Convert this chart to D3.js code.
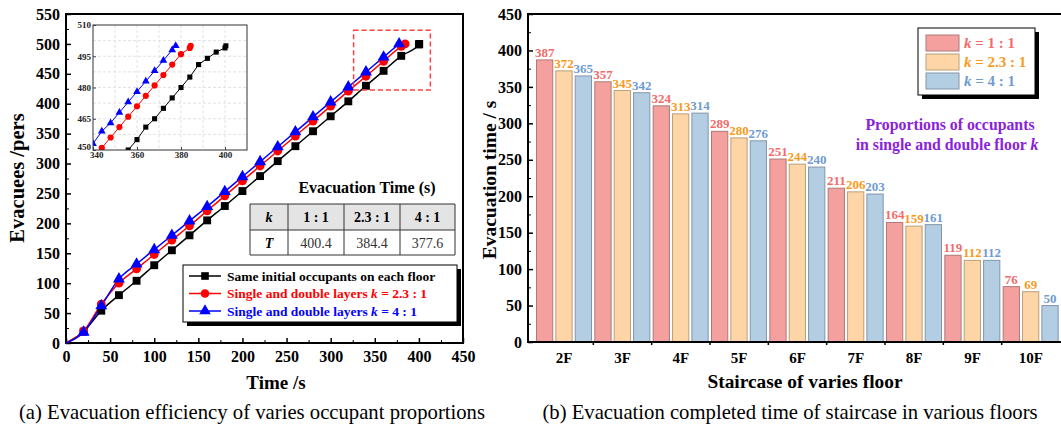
<!DOCTYPE html>
<html>
<head>
<meta charset="utf-8">
<script src="https://cdn.jsdelivr.net/npm/d3@7"></script>
<style>
  body { margin: 0; background: #fff; }
  svg { display: block; font-family: "Liberation Serif", "Times New Roman", serif; }
</style>
</head>
<body>
<div id="chart"></div>
<script>
// ---- data: (a) evacuees vs time ----
var blackT = [0, 20, 40, 60, 80, 100, 120, 140, 160, 180, 200, 220, 240, 260, 280, 300, 320, 340, 360, 380, 400, 400.4];
var blackV = [0, 19, 54, 80, 104, 130, 155, 180, 205, 229, 254, 279, 304, 329, 354, 379, 404, 430, 455, 480, 499, 500];
var redT = [0, 20, 40, 60, 80, 100, 120, 140, 160, 180, 200, 220, 240, 260, 280, 300, 320, 340, 360, 380, 384.4];
var redV = [0, 20, 65, 100, 124, 148, 172, 196, 221, 246, 271, 296, 321, 346, 371, 396, 421, 446, 471, 496, 500];
var blueT = [0, 20, 40, 60, 80, 100, 120, 140, 160, 180, 200, 220, 240, 260, 280, 300, 320, 340, 360, 377.6];
var blueV = [0, 18, 62, 107, 132, 156, 180, 204, 228, 253, 278, 303, 328, 353, 378, 403, 428, 453, 478, 500];

// inset (zoom of the end)
var inBlackT = [356, 360, 364, 368, 372, 376, 380, 384, 388, 392, 396, 400, 400.4];
var inBlackV = [450, 455, 461, 465, 470, 475, 480, 485, 491, 494, 497, 499, 500];
var inRedT = [344, 348, 352, 356, 360, 364, 368, 372, 376, 380, 384, 384.4];
var inRedV = [451, 456, 461, 466, 471, 476, 481, 486, 491, 496, 499, 500];
var inBlueT = [340, 344, 348, 352, 356, 360, 364, 368, 372, 376, 377.6];
var inBlueV = [453, 459, 463, 468, 473, 478, 483, 488, 493, 498, 500];

var tableK = ["1 : 1", "2.3 : 1", "4 : 1"];
var tableT = ["400.4", "384.4", "377.6"];

// ---- data: (b) evacuation time per floor ----
var floors = ["2F", "3F", "4F", "5F", "6F", "7F", "8F", "9F", "10F"];
var k1 = [387, 357, 324, 289, 251, 211, 164, 119, 76];
var k23 = [372, 345, 313, 280, 244, 206, 159, 112, 69];
var k4 = [365, 342, 314, 276, 240, 203, 161, 112, 50];
var kNames = ["1 : 1", "2.3 : 1", "4 : 1"];

var W = 1061, H = 429;
var svg = d3.select("#chart").append("svg").attr("width", W).attr("height", H);

// ================= (a) =================
var x = d3.scaleLinear().domain([0, 450]).range([66, 463]);
var y = d3.scaleLinear().domain([0, 550]).range([343, 14]);

var gA = svg.append("g");

// minor ticks
gA.append("g").attr("transform", "translate(0,343)")
  .call(d3.axisBottom(x).tickValues(d3.range(25, 450, 50)).tickSize(-3).tickFormat(""))
  .call(g => g.select(".domain").remove());
gA.append("g").attr("transform", "translate(66,0)")
  .call(d3.axisLeft(y).tickValues(d3.range(25, 550, 50)).tickSize(-3).tickFormat(""))
  .call(g => g.select(".domain").remove());

var xAx = gA.append("g").attr("transform", "translate(0,343)")
  .call(d3.axisBottom(x).tickValues(d3.range(0, 451, 50)).tickSize(-5).tickPadding(8));
var yAx = gA.append("g").attr("transform", "translate(66,0)")
  .call(d3.axisLeft(y).tickValues(d3.range(0, 551, 50)).tickSize(-5).tickPadding(6));
[xAx, yAx].forEach(function(a) {
  a.selectAll("text").attr("font-size", 16).attr("font-weight", "bold").attr("fill", "#000")
    .attr("font-family", "Liberation Serif, serif");
  a.select(".domain").remove();
  a.selectAll("line").attr("stroke-width", 1.5);
});
gA.selectAll(".tick line").attr("stroke", "#000");

gA.append("rect").attr("x", 66).attr("y", 14).attr("width", 397).attr("height", 329)
  .attr("fill", "none").attr("stroke", "#000").attr("stroke-width", 2);

function series(T, V) { return T.map(function(t, i) { return [t, V[i]]; }); }
var main = [
  { d: series(blackT, blackV), c: "#000", m: "square" },
  { d: series(redT, redV), c: "#f00", m: "circle" },
  { d: series(blueT, blueV), c: "#00f", m: "triangle" }
];

function marker(sel, type, color, size) {
  var sym = type === "square" ? d3.symbolSquare : type === "circle" ? d3.symbolCircle : d3.symbolTriangle;
  sel.append("path").attr("d", d3.symbol().type(sym).size(size)).attr("fill", color);
}

var lineA = d3.line().x(d => x(d[0])).y(d => y(d[1])).curve(d3.curveMonotoneX);
main.forEach(function(s) {
  gA.append("path").attr("d", lineA(s.d)).attr("fill", "none").attr("stroke", s.c).attr("stroke-width", 1.5);
});
main.forEach(function(s) {
  s.d.slice(1).forEach(function(p) {
    var g = gA.append("g").attr("transform", "translate(" + x(p[0]) + "," + y(p[1]) + ")");
    marker(g, s.m, s.c, s.m === "circle" ? 62 : 62);
  });
});

// red dashed zoom box
gA.append("rect").attr("x", x(326)).attr("y", y(523))
  .attr("width", x(413) - x(326)).attr("height", y(423) - y(523))
  .attr("fill", "none").attr("stroke", "#ff4040").attr("stroke-width", 1.5).attr("stroke-dasharray", "5,3");

// inset
var xi = d3.scaleLinear().domain([340, 410]).range([93, 247]);
var yi = d3.scaleLinear().domain([450, 510]).range([150, 25]);
var gI = svg.append("g");
gI.append("rect").attr("x", 93).attr("y", 25).attr("width", 154).attr("height", 125).attr("fill", "#fff");
gI.append("g").selectAll("line").data(d3.range(350, 410, 10)).join("line")
  .attr("x1", d => xi(d)).attr("x2", d => xi(d)).attr("y1", 25).attr("y2", 150)
  .attr("stroke", "#e2e2e2").attr("stroke-dasharray", "3,2");
gI.append("g").selectAll("line").data(d3.range(457.5, 510, 7.5)).join("line")
  .attr("y1", d => yi(d)).attr("y2", d => yi(d)).attr("x1", 93).attr("x2", 247)
  .attr("stroke", "#e2e2e2").attr("stroke-dasharray", "3,2");

svg.append("clipPath").attr("id", "insetClip").append("rect")
  .attr("x", 93).attr("y", 25).attr("width", 154).attr("height", 125);
var gIn = gI.append("g").attr("clip-path", "url(#insetClip)");
var lineI = d3.line().x(d => xi(d[0])).y(d => yi(d[1]));
[
  { d: series(inBlackT, inBlackV), c: "#000", m: "square" },
  { d: series(inRedT, inRedV), c: "#f00", m: "circle" },
  { d: series(inBlueT, inBlueV), c: "#00f", m: "triangle" }
].forEach(function(s) {
  gIn.append("path").attr("d", lineI(s.d)).attr("fill", "none").attr("stroke", s.c).attr("stroke-width", 1);
  s.d.forEach(function(p) {
    var g = gIn.append("g").attr("transform", "translate(" + xi(p[0]) + "," + yi(p[1]) + ")");
    marker(g, s.m, s.c, s.m === "circle" ? 30 : 26);
  });
});

var xiAx = gI.append("g").attr("transform", "translate(0,150)")
  .call(d3.axisBottom(xi).tickValues([340, 360, 380, 400]).tickSize(-3).tickPadding(2));
var yiAx = gI.append("g").attr("transform", "translate(93,0)")
  .call(d3.axisLeft(yi).tickValues([450, 465, 480, 495, 510]).tickSize(-3).tickPadding(2));
[xiAx, yiAx].forEach(function(a) {
  a.select(".domain").remove();
  a.selectAll("text").attr("font-size", 9).attr("font-weight", "bold").attr("fill", "#222")
    .attr("font-family", "Liberation Serif, serif");
  a.selectAll("line").attr("stroke", "#444");
});
// lift the corner label a little so it does not sit on "340"
yiAx.selectAll(".tick").filter(d => d === 450).select("text").attr("dy", "-0.05em");
xiAx.selectAll(".tick").filter(d => d === 340).select("text").attr("dx", "0.35em");
gI.append("rect").attr("x", 93).attr("y", 25).attr("width", 154).attr("height", 125)
  .attr("fill", "none").attr("stroke", "#333").attr("stroke-width", 1);

// table
gA.append("text").attr("x", 367).attr("y", 193).attr("text-anchor", "middle")
  .attr("font-size", 16).attr("font-weight", "bold").text("Evacuation Time (s)");
var colX = [250, 288, 344, 400, 455];
var rowY = [204, 230, 255];
gA.append("rect").attr("x", colX[0]).attr("y", rowY[0]).attr("width", colX[4] - colX[0])
  .attr("height", rowY[1] - rowY[0]).attr("fill", "#e4e4e4");
colX.forEach(function(cx) {
  gA.append("line").attr("x1", cx).attr("x2", cx).attr("y1", rowY[0]).attr("y2", rowY[2]).attr("stroke", "#333");
});
rowY.forEach(function(ry) {
  gA.append("line").attr("x1", colX[0]).attr("x2", colX[4]).attr("y1", ry).attr("y2", ry).attr("stroke", "#333");
});
var headRow = ["k"].concat(tableK), valRow = ["T"].concat(tableT);
headRow.forEach(function(t, i) {
  gA.append("text").attr("x", (colX[i] + colX[i + 1]) / 2).attr("y", 222).attr("text-anchor", "middle")
    .attr("font-size", 14).attr("font-weight", "bold").attr("font-style", i === 0 ? "italic" : "normal").text(t);
});
valRow.forEach(function(t, i) {
  gA.append("text").attr("x", (colX[i] + colX[i + 1]) / 2).attr("y", 248).attr("text-anchor", "middle")
    .attr("font-size", 14).attr("font-weight", i === 0 ? "bold" : "normal")
    .attr("font-style", i === 0 ? "italic" : "normal").attr("fill", i === 0 ? "#000" : "#333").text(t);
});

// legend (a)
gA.append("rect").attr("x", 187).attr("y", 269).attr("width", 274).attr("height", 57).attr("fill", "#000");
gA.append("rect").attr("x", 183).attr("y", 265).attr("width", 274).attr("height", 57)
  .attr("fill", "#fff").attr("stroke", "#000").attr("stroke-width", 1);
var legA = [
  { c: "#000", m: "square", pre: "Same initial occupants on each floor", k: "" },
  { c: "#f00", m: "circle", pre: "Single and double layers ", k: " = 2.3 : 1" },
  { c: "#00f", m: "triangle", pre: "Single and double layers ", k: " = 4 : 1" }
];
legA.forEach(function(l, i) {
  var ly = 276 + i * 17.5;
  gA.append("line").attr("x1", 189).attr("x2", 221).attr("y1", ly).attr("y2", ly)
    .attr("stroke", l.c).attr("stroke-width", 1.5);
  var g = gA.append("g").attr("transform", "translate(205," + ly + ")");
  marker(g, l.m, l.c, 58);
  var t = gA.append("text").attr("x", 227).attr("y", ly + 4.5).attr("font-size", 13.5)
    .attr("font-weight", "bold").attr("fill", l.c);
  t.append("tspan").text(l.pre);
  if (l.k) {
    t.append("tspan").attr("font-style", "italic").text("k");
    t.append("tspan").text(l.k);
  }
});

// axis titles (a)
gA.append("text").attr("x", 276).attr("y", 389).attr("text-anchor", "middle")
  .attr("font-size", 19).attr("font-weight", "bold").text("Time /s");
gA.append("text").attr("transform", "translate(24,178) rotate(-90)").attr("text-anchor", "middle")
  .attr("font-size", 20.5).attr("font-weight", "bold").text("Evacuees /pers");
gA.append("text").attr("x", 252).attr("y", 419).attr("text-anchor", "middle")
  .attr("font-size", 20.7).text("(a) Evacuation efficiency of varies occupant proportions");

// ================= (b) =================
var xb = d3.scaleBand().domain(floors).range([535, 1060]).padding(0);
var xk = d3.scaleBand().domain(kNames).range([1.5, 56.5]).paddingInner(0.16);
var yb = d3.scaleLinear().domain([0, 450]).range([342, 14]);
var fills = ["#f4a09e", "#fdd5a6", "#b3cde3"];
var strokes = ["#b07878", "#b8a07a", "#8296a8"];
var labCol = ["#f26b6b", "#f79b1d", "#6f9bd0"];
var vals = [k1, k23, k4];

var gB = svg.append("g");
gB.append("g").attr("transform", "translate(528,0)")
  .call(d3.axisLeft(yb).tickValues(d3.range(25, 450, 50)).tickSize(-3).tickFormat(""))
  .call(g => g.select(".domain").remove());
var ybAx = gB.append("g").attr("transform", "translate(528,0)")
  .call(d3.axisLeft(yb).tickValues(d3.range(0, 451, 50)).tickSize(-5).tickPadding(6));
ybAx.select(".domain").remove();
ybAx.selectAll("text").attr("font-size", 16).attr("font-weight", "bold").attr("fill", "#000")
  .attr("font-family", "Liberation Serif, serif");
ybAx.selectAll("line").attr("stroke-width", 1.5);

floors.forEach(function(f, i) {
  vals.forEach(function(v, j) {
    gB.append("rect").attr("x", xb(f) + xk(kNames[j])).attr("y", yb(v[i]))
      .attr("width", xk.bandwidth()).attr("height", yb(0) - yb(v[i]))
      .attr("fill", fills[j]).attr("stroke", strokes[j]).attr("stroke-width", 1);
    gB.append("text").attr("x", xb(f) + xk(kNames[j]) + xk.bandwidth() / 2).attr("y", yb(v[i]) - 3)
      .attr("text-anchor", "middle").attr("font-size", 13).attr("font-weight", "bold")
      .attr("fill", labCol[j]).text(v[i]);
  });
});

// x axis (b): ticks between groups
var bAx = gB.append("g").attr("transform", "translate(0,342)")
  .call(d3.axisBottom(xb).tickSize(0).tickPadding(10));
bAx.select(".domain").remove();
bAx.selectAll("text").attr("font-size", 15).attr("font-weight", "bold").attr("fill", "#000")
  .attr("font-family", "Liberation Serif, serif");
gB.append("g").selectAll("line").data(floors.slice(1)).join("line")
  .attr("x1", d => xb(d)).attr("x2", d => xb(d)).attr("y1", 342).attr("y2", 345)
  .attr("stroke", "#000").attr("stroke-width", 1.5);

gB.append("path").attr("d", "M1062,14H528V342H1062").attr("fill", "none")
  .attr("stroke", "#000").attr("stroke-width", 2);

// legend (b)
gB.append("rect").attr("x", 922).attr("y", 32).attr("width", 117).attr("height", 67).attr("fill", "#000");
gB.append("rect").attr("x", 918).attr("y", 28).attr("width", 117).attr("height", 67)
  .attr("fill", "#fff").attr("stroke", "#000").attr("stroke-width", 1);
kNames.forEach(function(k, j) {
  var ly = 35 + j * 19;
  gB.append("rect").attr("x", 926).attr("y", ly).attr("width", 33).attr("height", 16)
    .attr("fill", fills[j]).attr("stroke", strokes[j]);
  var t = gB.append("text").attr("x", 964).attr("y", ly + 13).attr("font-size", 15)
    .attr("font-weight", "bold").attr("fill", labCol[j]);
  t.append("tspan").attr("font-style", "italic").text("k");
  t.append("tspan").text(" = " + k);
});

var purple = "#8a22dc";
gB.append("text").attr("x", 950).attr("y", 130).attr("text-anchor", "middle")
  .attr("font-size", 15.8).attr("font-weight", "bold").attr("fill", purple).text("Proportions of occupants");
var pt = gB.append("text").attr("x", 947).attr("y", 150).attr("text-anchor", "middle")
  .attr("font-size", 15.8).attr("font-weight", "bold").attr("fill", purple);
pt.append("tspan").text("in single and double floor ");
pt.append("tspan").attr("font-style", "italic").text("k");

gB.append("text").attr("x", 805).attr("y", 388).attr("text-anchor", "middle")
  .attr("font-size", 19.4).attr("font-weight", "bold").text("Staircase of varies floor");
gB.append("text").attr("transform", "translate(496,180) rotate(-90)").attr("text-anchor", "middle")
  .attr("font-size", 19.5).attr("font-weight", "bold").text("Evacuation time / s");
gB.append("text").attr("x", 790).attr("y", 419).attr("text-anchor", "middle")
  .attr("font-size", 20.7).text("(b) Evacuation completed time of staircase in various floors");
</script>
</body>
</html>
